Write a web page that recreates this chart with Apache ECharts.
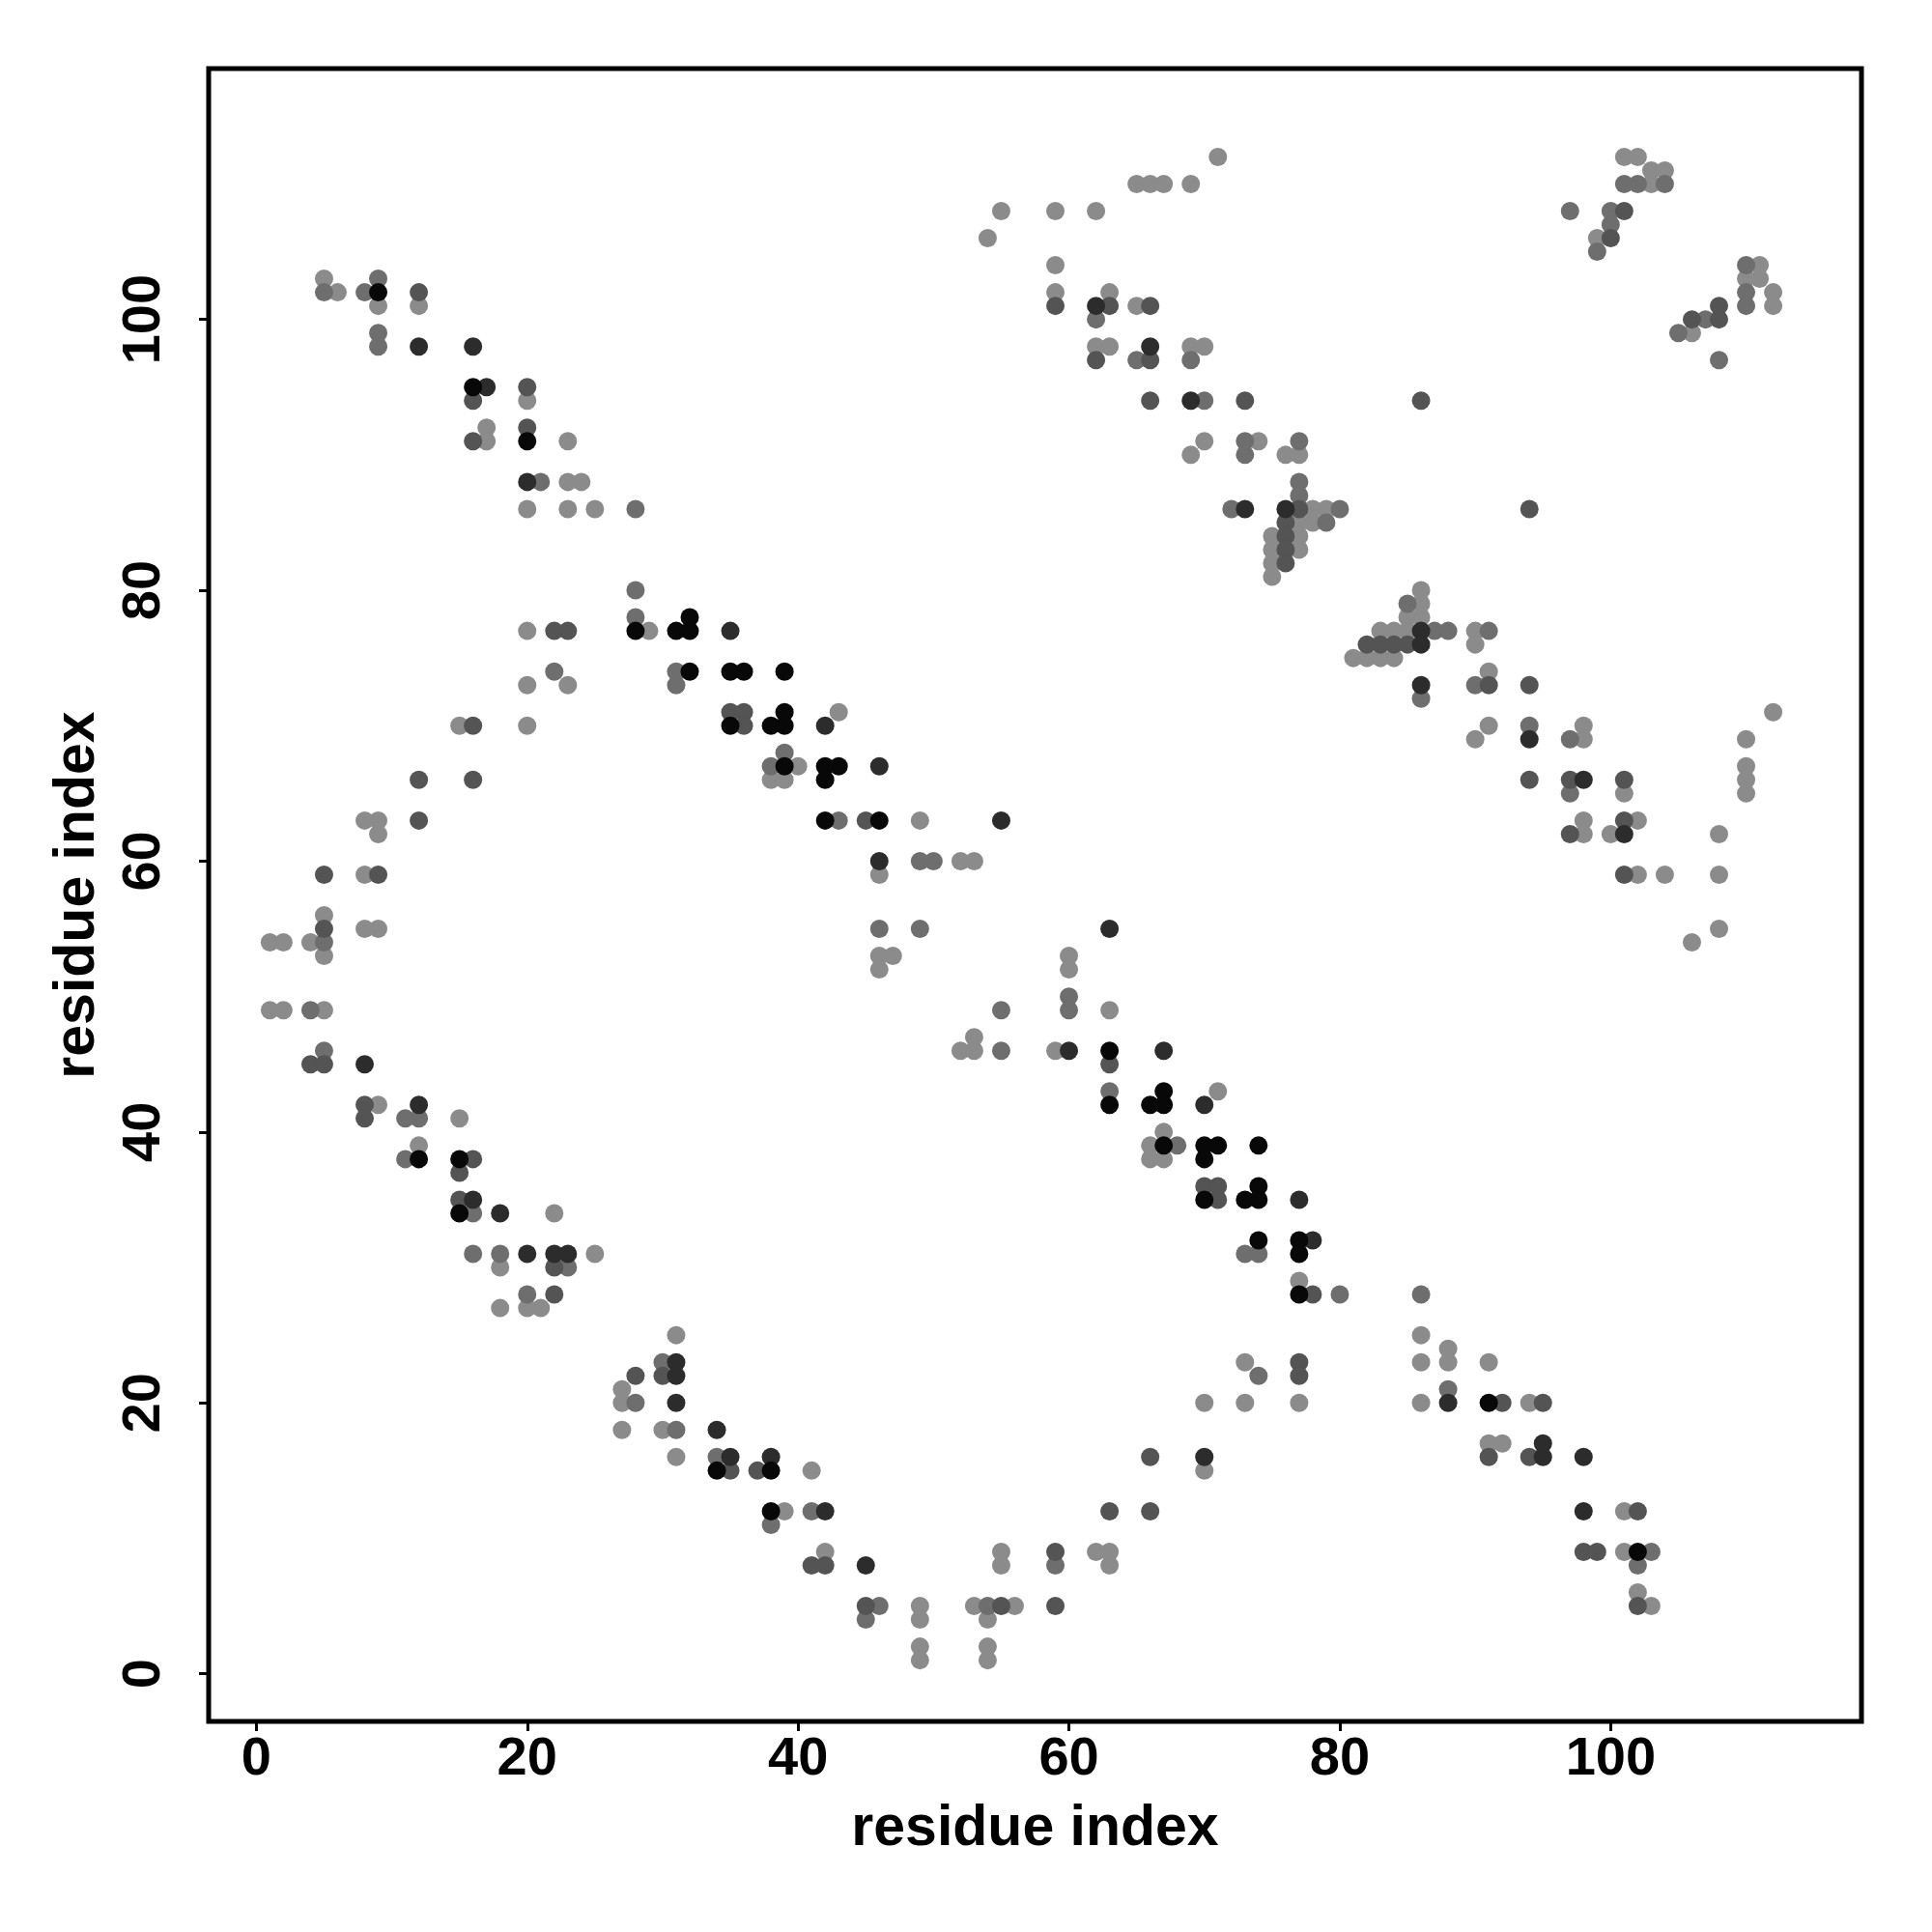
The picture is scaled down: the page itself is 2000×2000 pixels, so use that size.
<!DOCTYPE html>
<html>
<head>
<meta charset="utf-8">
<script src="https://cdn.jsdelivr.net/npm/echarts@6/dist/echarts.min.js"></script>
<style>html,body{margin:0;padding:0;background:#fff;}#c{width:2000px;height:2000px;}</style>
</head>
<body>
<div id="c"></div>
<script>
// Tick labels
const xTicks = [0, 20, 40, 60, 80, 100];
const yTicks = [0, 20, 40, 60, 80, 100];
const xTitle = 'residue index';
const yTitle = 'residue index';

// Contacts grouped by shade (light -> black)
const lightPts = [
 [5,103],[6,102],[9,101],[12,101],[20,94],[17,92],[17,91],[23,91],[23,88],[24,88],[20,86],[23,86],[25,86],[29,77],[20,77],
 [43,71],[40,67],[38,66],[39,66],[49,63],[46,59],[52,60],[53,60],[46,53],[47,53],[46,52],
 [20,73],[23,73],[15,70],[20,70],[8,63],[9,63],[9,62],[8,59],[5,56],[5,53],[1,54],[2,54],[4,54],[8,55],[9,55],[1,49],[2,49],[5,49],
 [9,42],[15,41],[12,39],[22,34],[18,30],[25,31],[18,27],[20,27],[21,27],
 [31,25],[27,21],[27,20],[27,18],[30,18],[31,16],[41,15],[39,12],[42,9],[49,5],[49,4],[49,2],[49,1],[53,5],[56,5],[54,4],[54,2],[54,1],[55,9],[55,8],[62,9],[63,9],[63,8],[70,15],
 [60,53],[60,52],[63,49],[53,47],[52,46],[53,46],[59,46],[71,43],[66,39],[67,40],[66,38],[67,38],[77,29],[73,23],[70,20],[73,20],[77,20],
 [86,25],[88,24],[86,23],[88,23],[91,23],[86,20],[94,20],[91,17],[92,17],[101,12],[101,9],[102,6],[103,5],
 [71,112],[65,110],[66,110],[67,110],[69,110],[55,108],[59,108],[62,108],[54,106],[59,104],[59,102],[63,102],[65,101],[62,98],[63,98],[69,98],[70,98],[70,91],[69,90],[74,91],[76,90],[77,90],[78,86],[79,86],[78,85],[77,85],[77,84],[77,83],[75,84],[75,83],[75,82],[75,81],
 [86,80],[86,79],[85,78],[86,78],[83,77],[84,77],[85,77],[90,77],[90,76],[81,75],[82,75],[83,75],[84,75],[91,74],[91,70],[90,69],[98,70],[98,69],[101,65],[98,63],[98,62],[100,62],[102,63],[108,62],[102,59],[104,59],[108,59],[112,71],[110,69],[110,67],[110,66],[110,65],[108,55],[106,54],
 [101,112],[102,112],[103,111],[104,111],[103,110],[99,106],[111,104],[110,103],[111,103],[112,102],[112,101],[106,99]
];
const mediumPts = [
 [5,102],[8,102],[9,103],[9,99],[9,98],[21,88],[28,86],[28,80],[28,78],
 [31,74],[31,73],[39,68],[38,67],[43,63],[49,60],[50,60],[46,55],[49,55],
 [22,74],[5,54],[4,49],[5,46],
 [11,41],[12,41],[11,38],[16,34],[16,31],[18,31],[23,30],[20,28],
 [30,23],[28,20],[31,18],[34,16],[38,11],[41,12],[46,5],[45,4],[54,5],[59,8],
 [60,50],[60,49],[55,49],[55,46],[63,43],[68,39],[73,31],[74,31],[80,28],[74,22],
 [86,28],[88,21],[103,9],[102,8],
 [62,100],[65,97],[69,97],[70,94],[73,91],[73,90],[77,91],[77,88],[77,87],[72,86],[80,86],[79,85],
 [85,79],[87,77],[88,77],[91,77],[90,73],[86,72],[94,70],[97,69],[97,65],
 [101,110],[102,110],[104,110],[97,108],[100,108],[100,107],[99,105],[110,104],[110,102],[110,101],[107,100],[105,99],[108,97]
];
const midDarkPts = [
 [12,102],[16,94],[20,95],[16,91],[20,92],[22,77],[23,77],
 [35,71],[36,71],[36,70],[45,63],
 [16,70],[12,66],[16,66],[12,63],[5,59],[9,59],[5,55],[4,45],[5,45],
 [8,42],[8,41],[16,38],[15,37],[15,35],[22,30],[22,28],
 [30,22],[28,22],[35,15],[37,15],[41,8],[42,8],[45,5],[55,5],[59,9],[59,5],[63,12],[66,12],[66,16],
 [63,45],[70,36],[71,36],[71,35],[78,28],[77,23],[77,22],
 [92,20],[95,20],[91,16],[94,16],[102,12],[98,9],[99,9],[102,5],
 [59,101],[63,101],[66,101],[62,97],[66,97],[66,94],[73,94],[77,86],[76,85],[76,84],[76,83],[76,82],
 [82,76],[83,76],[84,76],[85,76],[91,73],[94,73],[94,66],[97,66],[101,66],[97,62],[101,63],[101,59],
 [101,108],[100,106],[108,101],[108,100],[106,100],
 [86,94],[94,86]
];
const darkPts = [
 [12,98],[16,98],[17,95],[20,88],
 [35,77],[42,70],[46,67],[55,63],[46,60],
 [8,45],
 [12,42],[16,35],[18,34],[20,31],[22,31],[23,31],
 [31,23],[31,22],[31,20],[34,18],[35,16],[38,16],[42,12],[45,8],[70,16],
 [63,55],[60,46],[67,46],[70,42],[77,35],[78,32],
 [88,20],[95,17],[95,16],[98,16],[98,12],
 [62,101],[66,98],[69,94],[73,86],[76,86],
 [86,77],[86,76],[86,73],[94,69],[98,66],[101,62]
];
const blackPts = [
 [9,102],[16,95],[20,91],[28,77],
 [31,77],[32,78],[32,77],[32,74],[35,74],[36,74],[39,74],[35,70],[38,70],[39,71],[39,70],[39,67],[42,67],[43,67],[42,66],[42,63],[46,63],
 [12,38],[15,38],[15,34],
 [34,15],[38,15],[38,12],
 [63,46],[63,42],[66,42],[67,43],[67,42],[67,39],[70,39],[71,39],[70,38],[74,39],[70,35],[73,35],[74,36],[74,35],[74,32],[77,32],[77,31],[77,28],
 [91,20],[102,9]
];

const groups = [
  {data: lightPts, color: '#8b8b8b'},
  {data: mediumPts, color: '#6e6e6e'},
  {data: midDarkPts, color: '#545454'},
  {data: darkPts, color: '#2c2c2c'},
  {data: blackPts, color: '#080808'}
];

const FONT = '"Liberation Sans", Arial, Helvetica, sans-serif';
const chart = echarts.init(document.getElementById('c'), null, {renderer: 'canvas'});

function axisCommon(ticks) {
  return {
    type: 'value',
    min: -3.52,
    max: 118.52,
    splitLine: {show: false},
    axisLine: {show: false, onZero: false},
    axisTick: {show: true, inside: false, length: 10, customValues: ticks, lineStyle: {color: '#000', width: 3}},
    nameTextStyle: {fontFamily: FONT, fontWeight: 'bold', fontSize: 59, color: '#000'},
    nameLocation: 'middle'
  };
}

const option = {
  backgroundColor: '#fff',
  animation: false,
  grid: {left: 216, top: 71, width: 1711, height: 1711, show: true, borderColor: '#000', borderWidth: 5, backgroundColor: 'transparent'},
  xAxis: Object.assign(axisCommon(xTicks), {
    name: xTitle,
    nameGap: 82,
    axisLabel: {customValues: xTicks, margin: 12, fontFamily: FONT, fontWeight: 'bold', fontSize: 56, color: '#000'}
  }),
  yAxis: Object.assign(axisCommon(yTicks), {
    name: yTitle,
    nameGap: 106,
    nameRotate: 90,
    axisLabel: {customValues: yTicks, rotate: 90, margin: 38, fontFamily: FONT, fontWeight: 'bold', fontSize: 56, color: '#000'}
  }),
  series: groups.map(g => ({
    type: 'scatter',
    data: g.data,
    symbol: 'circle',
    symbolSize: 19,
    itemStyle: {color: g.color, opacity: 1},
    emphasis: {disabled: true},
    silent: true
  }))
};
chart.setOption(option);
</script>
</body>
</html>
